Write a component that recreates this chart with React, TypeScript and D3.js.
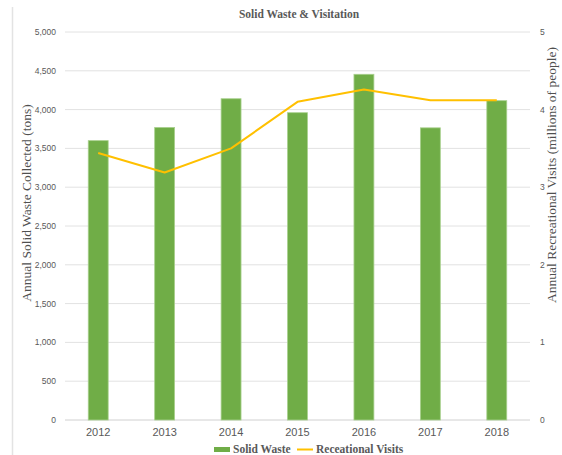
import React, { useEffect, useRef } from "react";
import * as d3 from "d3";

const years = ["2012", "2013", "2014", "2015", "2016", "2017", "2018"];
const solidWaste = [3600, 3770, 4140, 3960, 4455, 3765, 4115];
const visits = [3.44, 3.19, 3.5, 4.1, 4.26, 4.12, 4.12];
const leftTicks = [0, 500, 1000, 1500, 2000, 2500, 3000, 3500, 4000, 4500, 5000];
const rightTicks = [0, 1, 2, 3, 4, 5];

const W = 562;
const H = 455;
const serif = "'Liberation Serif', 'DejaVu Serif', serif";
const sans = "'Liberation Sans', Arial, sans-serif";

export default function App() {
  const el = useRef<SVGSVGElement>(null);

  useEffect(() => {
    const svg = d3.select(el.current);
    svg.selectAll("*").remove();

    const left = 65, right = 530, top = 32, bottom = 420;

    const x = d3.scaleBand().domain(years).range([left, right]).paddingInner(0.7).paddingOuter(0.35);
    const xc = (d: string) => (x(d) as number) + x.bandwidth() / 2;
    const yL = d3.scaleLinear().domain([0, 5000]).range([bottom, top]);
    const yR = d3.scaleLinear().domain([0, 5]).range([bottom, top]);

    // chart border fragment
    svg.append("line")
      .attr("x1", 12.5).attr("x2", 12.5).attr("y1", 7).attr("y2", H)
      .attr("stroke", "#e3e3e3").attr("stroke-width", 1.5);

    // gridlines
    svg.append("g").selectAll("line").data(leftTicks).join("line")
      .attr("x1", left).attr("x2", right)
      .attr("y1", (d) => yL(d)).attr("y2", (d) => yL(d))
      .attr("stroke", (d) => (d === 0 ? "#d0d0d0" : "#e2e2e2"))
      .attr("stroke-width", 1);

    // left tick labels
    svg.append("g").selectAll("text").data(leftTicks).join("text")
      .attr("x", 56).attr("y", (d) => yL(d) + 3)
      .attr("text-anchor", "end")
      .attr("font-family", sans).attr("font-size", 8.5).attr("fill", "#595959")
      .text((d) => d3.format(",")(d));

    // right tick labels
    svg.append("g").selectAll("text").data(rightTicks).join("text")
      .attr("x", 540).attr("y", (d) => yR(d) + 3)
      .attr("text-anchor", "start")
      .attr("font-family", sans).attr("font-size", 8.5).attr("fill", "#595959")
      .text((d) => d);

    // x labels
    svg.append("g").selectAll("text").data(years).join("text")
      .attr("x", (d) => xc(d)).attr("y", 436)
      .attr("text-anchor", "middle")
      .attr("font-family", sans).attr("font-size", 11).attr("fill", "#595959")
      .text((d) => d);

    // bars
    svg.append("g").selectAll("rect").data(solidWaste).join("rect")
      .attr("x", (_, i) => x(years[i]) as number)
      .attr("y", (d) => yL(d))
      .attr("width", x.bandwidth())
      .attr("height", (d) => bottom - yL(d))
      .attr("fill", "#70ad47")
      .attr("stroke", "#a9d08e").attr("stroke-width", 0.8);

    // line
    const line = d3.line<number>()
      .x((_, i) => xc(years[i]))
      .y((d) => yR(d));
    svg.append("path").datum(visits)
      .attr("d", line)
      .attr("fill", "none")
      .attr("stroke", "#ffc000").attr("stroke-width", 2)
      .attr("stroke-linejoin", "round");

    // title
    svg.append("text")
      .attr("x", 299).attr("y", 18)
      .attr("text-anchor", "middle")
      .attr("font-family", serif).attr("font-weight", "bold")
      .attr("font-size", 11.5).attr("fill", "#595959")
      .text("Solid Waste & Visitation");

    // axis titles
    svg.append("text")
      .attr("transform", "translate(31,203) rotate(-90)")
      .attr("text-anchor", "middle")
      .attr("font-family", serif).attr("font-size", 13.5).attr("fill", "#505050")
      .text("Annual Solid Waste Collected  (tons)");

    svg.append("text")
      .attr("transform", "translate(556,175) rotate(-90)")
      .attr("text-anchor", "middle")
      .attr("font-family", serif).attr("font-size", 13.5).attr("fill", "#505050")
      .text("Annual Recreational Visits (millions of people)");

    // legend
    const lg = svg.append("g");
    lg.append("rect").attr("x", 214).attr("y", 447).attr("width", 16).attr("height", 5).attr("fill", "#70ad47");
    lg.append("text").attr("x", 233).attr("y", 453)
      .attr("font-family", serif).attr("font-weight", "bold").attr("font-size", 11.5).attr("fill", "#595959")
      .text("Solid Waste");
    lg.append("line").attr("x1", 297).attr("x2", 313).attr("y1", 449.5).attr("y2", 449.5)
      .attr("stroke", "#ffc000").attr("stroke-width", 2);
    lg.append("text").attr("x", 316).attr("y", 453)
      .attr("font-family", serif).attr("font-weight", "bold").attr("font-size", 11.5).attr("fill", "#595959")
      .text("Receational Visits");
  }, []);

  return (
    <svg ref={el} width={W} height={H} style={{ display: "block", position: "absolute", left: 0, top: 0, background: "#fff" }} />
  );
}
